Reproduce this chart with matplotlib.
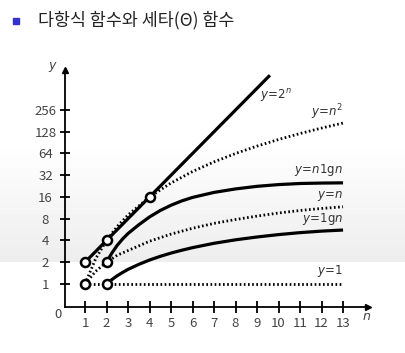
import numpy as np
import matplotlib.pyplot as plt

plt.rcParams['font.family'] = ['Noto Sans CJK KR', 'DejaVu Sans']
plt.rcParams['mathtext.fontset'] = 'dejavusans'

# values (y axis is a log2 scale)
n_all = [1, 2, 3, 4, 5, 6, 7, 8, 9, 10, 11, 12, 13]
n_start1 = [1, 1.5, 2, 2.5, 3, 4, 5, 6, 7, 8, 9, 10, 11, 12, 13]
n_start2 = [2, 2.25, 2.5, 2.75, 3, 3.5, 4, 4.5, 5, 5.5, 6, 7, 8, 9, 10, 11, 12, 13]

pow2_n = [1, 2, 4, 9.6]
pow2_y = [2, 4, 16, 776]
sq_y = [1, 2.25, 4, 6.25, 9, 16, 25, 36, 49, 64, 81, 100, 121, 144, 169]
lin_y = [1, 1.5, 2, 2.5, 2.9, 3.9, 4.9, 5.9, 6.9, 7.8, 8.7, 9.6, 10.4, 11.1, 11.7]
nlgn_y = [2, 2.68, 3.43, 4.2, 4.99, 6.59, 8.46, 10.41, 12.3, 14.12, 15.78,
          18.51, 20.68, 22.47, 23.75, 24.59, 24.93, 25.11]
lgn_y = [1, 1.149, 1.301, 1.444, 1.591, 1.866, 2.144, 2.412, 2.676, 2.928, 3.182,
         3.655, 4.084, 4.469, 4.823, 5.134, 5.389, 5.579]
const_n = [1, 13]
const_y = [1, 1]

circle_n = [1, 2, 4, 1, 2, 2]
circle_y = [2, 4, 16, 1, 2, 1]

y_ticks = [1, 2, 4, 8, 16, 32, 64, 128, 256]

fig = plt.figure(figsize=(4.05, 3.53), dpi=100)

# faint grey band behind the chart
bg = fig.add_axes([0, 0, 1, 1], zorder=-1)
grad = np.ones((353, 1))
rows = np.arange(353)
band = (rows >= 140) & (rows < 262)
grad[band, 0] = 1 - 0.07 * (rows[band] - 140) / 122
bg.imshow(grad, cmap='gray', vmin=0, vmax=1, aspect='auto', extent=[0, 1, 0, 1])
bg.axis('off')

fig.patches.append(plt.Rectangle((13 / 405, 1 - 24 / 353), 6 / 405, 6 / 353,
                                 transform=fig.transFigure, color='#3333cc'))
fig.text(38 / 405, 1 - 20 / 353, '다항식 함수와 세타(Θ) 함수', fontsize=12.5,
         va='center', ha='left', color='#222222')

ax = fig.add_axes([65 / 405, 1 - 307 / 353, 303 / 405, 237 / 353])
ax.patch.set_alpha(0)
ax.set_yscale('log', base=2)
ax.set_xlim(0.07, 14.16)
ax.set_ylim(2 ** -1.06, 2 ** 9.84)

solid = dict(color='black', lw=2.3, solid_capstyle='butt', solid_joinstyle='round')
dotted = dict(color='black', lw=2.0, linestyle=(0, (0.6, 0.9)))

ax.plot(pow2_n, pow2_y, **solid)
ax.plot(n_start1, sq_y, **dotted)
ax.plot(n_start2, nlgn_y, **solid)
ax.plot(n_start1, lin_y, **dotted)
ax.plot(n_start2, lgn_y, **solid)
ax.plot(const_n, const_y, **dotted)
ax.plot(circle_n, circle_y, 'o', ms=6.5, mfc='white', mec='black', mew=1.8, zorder=5)

lab = dict(textcoords='offset pixels', fontsize=8.5, color='#333333', ha='right', va='bottom')
ax.annotate(r'$y\!=\!2^n$', (pow2_n[-1], pow2_y[-1]), xytext=(22, -29), **lab)
ax.annotate(r'$y\!=\!n^2$', (n_start1[-1], sq_y[-1]), xytext=(0, 1), **lab)
ax.annotate(r'$y\!=\!n\mathrm{1g}n$', (n_start2[-1], nlgn_y[-1]), xytext=(0, 5), **lab)
ax.annotate(r'$y\!=\!n$', (n_start1[-1], lin_y[-1]), xytext=(0, 4), **lab)
ax.annotate(r'$y\!=\!\mathrm{1g}n$', (n_start2[-1], lgn_y[-1]), xytext=(0, 3), **lab)
ax.annotate(r'$y\!=\!1$', (const_n[-1], const_y[-1]), xytext=(0, 5), **lab)

ax.spines['top'].set_visible(False)
ax.spines['right'].set_visible(False)
ax.spines['left'].set_linewidth(1.3)
ax.spines['bottom'].set_linewidth(1.3)
ax.plot(1, 0, '>k', ms=4, transform=ax.transAxes, clip_on=False)
ax.plot(0, 1, '^k', ms=4, transform=ax.transAxes, clip_on=False)

ax.set_xticks(n_all)
ax.set_xticklabels([str(v) for v in n_all])
ax.set_yticks(y_ticks)
ax.set_yticklabels([str(v) for v in y_ticks], ha='center')
ax.minorticks_off()
ax.tick_params(axis='x', direction='inout', length=9, width=1.3, labelsize=9.5,
               labelcolor='#444444', pad=3)
ax.tick_params(axis='y', direction='inout', length=7, width=1.3, labelsize=9.5,
               labelcolor='#444444', pad=10.5)

ax.annotate('0', (0, 0), xycoords='axes fraction', xytext=(-7, -8),
            textcoords='offset pixels', ha='center', va='center',
            fontsize=9.5, color='#444444')
ax.annotate(r'$n$', (1, 0), xycoords='axes fraction', xytext=(-1, -10),
            textcoords='offset pixels', ha='center', va='center',
            fontsize=9, color='#444444')
ax.annotate(r'$y$', (0, 1), xycoords='axes fraction', xytext=(-12, 3),
            textcoords='offset pixels', ha='center', va='center',
            fontsize=9, color='#444444')

fig.savefig('out.png', dpi=100)
